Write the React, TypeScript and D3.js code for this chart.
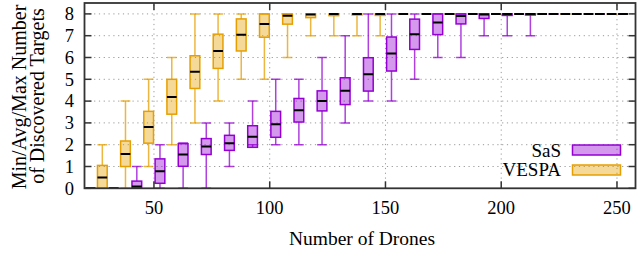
import React from "react";
import * as d3 from "d3";

const W = 637;
const H = 255;

// SaS: number of drones and min / box low / avg / box high / max
const sasDrones = [20, 30, 40, 50, 60, 70, 80, 90, 100, 110, 120, 130, 140, 150, 160, 170, 180, 190, 200, 210, 220, 230, 240, 250];
const sasMin = [0, 0, 0, 0, 0, 0, 1, 2, 2, 2, 2, 3, 4, 4, 5, 6, 6, 7, 7, 7, 8, 8, 8, 8];
const sasLow = [0, 0, 0, 0.23, 1.01, 1.55, 1.74, 1.88, 2.34, 3.04, 3.55, 3.84, 4.46, 5.38, 6.37, 7.05, 7.54, 7.79, 7.93, 7.95, 8, 8, 8, 8];
const sasAvg = [0, 0, 0.08, 0.78, 1.55, 1.92, 2.07, 2.37, 2.94, 3.58, 4.01, 4.47, 5.23, 6.18, 7.07, 7.6, 7.9, 7.97, 8, 8, 8, 8, 8, 8];
const sasHigh = [0, 0, 0.33, 1.35, 2.05, 2.28, 2.43, 2.87, 3.53, 4.12, 4.47, 5.07, 5.99, 6.94, 7.76, 8, 8, 8, 8, 8, 8, 8, 8, 8];
const sasMax = [0, 0, 1, 2, 2.08, 3, 3, 4, 5, 5, 6, 7, 8, 8, 8, 8, 8, 8, 8, 8, 8, 8, 8, 8];

// VESPA
const vespaDrones = [30, 40, 50, 60, 70, 80, 90, 100, 110, 120, 130, 140, 150, 160, 170, 180, 190, 200, 210, 220, 230, 240, 250];
const vespaMin = [0, 0, 1, 2, 3, 4, 5, 5, 6, 7, 7, 7, 7, 8, 8, 8, 8, 8, 8, 8, 8, 8, 8];
const vespaLow = [0, 1, 2.07, 3.4, 4.58, 5.5, 6.3, 6.93, 7.53, 7.83, 7.92, 7.95, 7.93, 8, 8, 8, 8, 8, 8, 8, 8, 8, 8];
const vespaAvg = [0.5, 1.57, 2.81, 4.19, 5.35, 6.3, 7.04, 7.54, 7.91, 7.97, 8, 8, 8, 8, 8, 8, 8, 8, 8, 8, 8, 8, 8];
const vespaHigh = [1.05, 2.17, 3.53, 5, 6.08, 7.07, 7.77, 8, 8, 8, 8, 8, 8, 8, 8, 8, 8, 8, 8, 8, 8, 8, 8];
const vespaMax = [2, 4, 5, 6, 8, 8, 8, 8, 8, 8, 8, 8, 8, 8, 8, 8, 8, 8, 8, 8, 8, 8, 8];

const xTicks = [50, 100, 150, 200, 250];
const yTicks = [0, 1, 2, 3, 4, 5, 6, 7, 8];

const SAS = "#9400d3";
const VESPA = "#e69f00";
const FONT = '"Liberation Serif", "Times New Roman", Times, serif';

const x = d3.scaleLinear().domain([20, 258]).range([84.5, 635.5]);
const y = d3.scaleLinear().domain([0, 8.5]).range([188.3, 3]);
const halfW = 2.1; // half box width in drone units

function Boxes({ xs, mins, lows, avgs, highs, maxs, offset, color }) {
  return (
    <g>
      {xs.map((d, i) => {
        const cx = x(d + offset);
        const x0 = x(d + offset - halfW);
        const x1 = x(d + offset + halfW);
        return (
          <g key={d}>
            <g stroke={color} strokeWidth={1.5} strokeOpacity={0.75}>
              <line x1={cx} x2={cx} y1={y(maxs[i])} y2={y(highs[i])} />
              <line x1={cx} x2={cx} y1={y(lows[i])} y2={y(mins[i])} />
              <line x1={x0} x2={x1} y1={y(maxs[i])} y2={y(maxs[i])} />
              <line x1={x0} x2={x1} y1={y(mins[i])} y2={y(mins[i])} />
            </g>
            <rect
              x={x0}
              y={y(highs[i])}
              width={x1 - x0}
              height={Math.max(0, y(lows[i]) - y(highs[i]))}
              fill={color}
              fillOpacity={0.4}
              stroke={color}
              strokeWidth={1.5}
            />
            <line x1={x0} x2={x1} y1={y(avgs[i])} y2={y(avgs[i])} stroke="#000" strokeWidth={2} />
          </g>
        );
      })}
    </g>
  );
}

export default function App() {
  const [xl, xr] = x.range();
  const [yb, yt] = y.range();
  return (
    <div style={{ position: "fixed", left: 0, top: 0 }}>
      <svg width={W} height={H} style={{ display: "block", background: "#fff", fontFamily: FONT }}>
        <defs>
          <clipPath id="plot">
            <rect x={xl} y={yt} width={xr - xl} height={yb - yt} />
          </clipPath>
        </defs>

        {/* grid */}
        <g stroke="#9a9a9a" strokeWidth={1} strokeDasharray="1.2,3.6">
          {yTicks.slice(1).map((t) => (
            <line key={"gy" + t} x1={xl} x2={xr} y1={y(t)} y2={y(t)} />
          ))}
          {xTicks.map((t) => (
            <line key={"gx" + t} x1={x(t)} x2={x(t)} y1={yb} y2={yt} />
          ))}
        </g>

        <g clipPath="url(#plot)">
          <Boxes xs={sasDrones} mins={sasMin} lows={sasLow} avgs={sasAvg} highs={sasHigh} maxs={sasMax} offset={2.6} color={SAS} />
          <Boxes xs={vespaDrones} mins={vespaMin} lows={vespaLow} avgs={vespaAvg} highs={vespaHigh} maxs={vespaMax} offset={-2.3} color={VESPA} />
        </g>

        {/* ticks */}
        <g stroke="#333" strokeWidth={1.5}>
          {yTicks.map((t) => (
            <g key={"ty" + t}>
              <line x1={xl} x2={xl + 7} y1={y(t)} y2={y(t)} />
              <line x1={xr} x2={xr - 7} y1={y(t)} y2={y(t)} />
            </g>
          ))}
          {xTicks.map((t) => (
            <g key={"tx" + t}>
              <line x1={x(t)} x2={x(t)} y1={yb} y2={yb - 7} />
              <line x1={x(t)} x2={x(t)} y1={yt} y2={yt + 7} />
            </g>
          ))}
        </g>
        <rect x={xl} y={yt} width={xr - xl} height={yb - yt} fill="none" stroke="#333" strokeWidth={1.8} />

        {/* tick labels */}
        <g fontSize={18.5} fill="#000">
          {yTicks.map((t) => (
            <text key={"ly" + t} x={74} y={y(t)} dy="0.34em" textAnchor="end">
              {t}
            </text>
          ))}
          {xTicks.map((t) => (
            <text key={"lx" + t} x={x(t)} y={213.5} textAnchor="middle">
              {t}
            </text>
          ))}
        </g>

        {/* axis titles */}
        <text x={362} y={245} fontSize={19.5} textAnchor="middle">
          Number of Drones
        </text>
        <g fontSize={20} textAnchor="middle">
          <text transform={`translate(25.5,97) rotate(-90)`}>Min/Avg/Max Number</text>
          <text transform={`translate(43.5,96) rotate(-90)`}>of Discovered Targets</text>
        </g>

        {/* legend */}
        <g fontSize={19}>
          <text x={561} y={157} textAnchor="end">SaS</text>
          <rect x={572.5} y={145} width={48} height={10} fill={SAS} fillOpacity={0.4} stroke={SAS} strokeWidth={1.5} />
          <text x={561} y={176} textAnchor="end">VESPA</text>
          <rect x={572.5} y={165} width={48} height={10} fill={VESPA} fillOpacity={0.4} stroke={VESPA} strokeWidth={1.5} />
        </g>
      </svg>
    </div>
  );
}
